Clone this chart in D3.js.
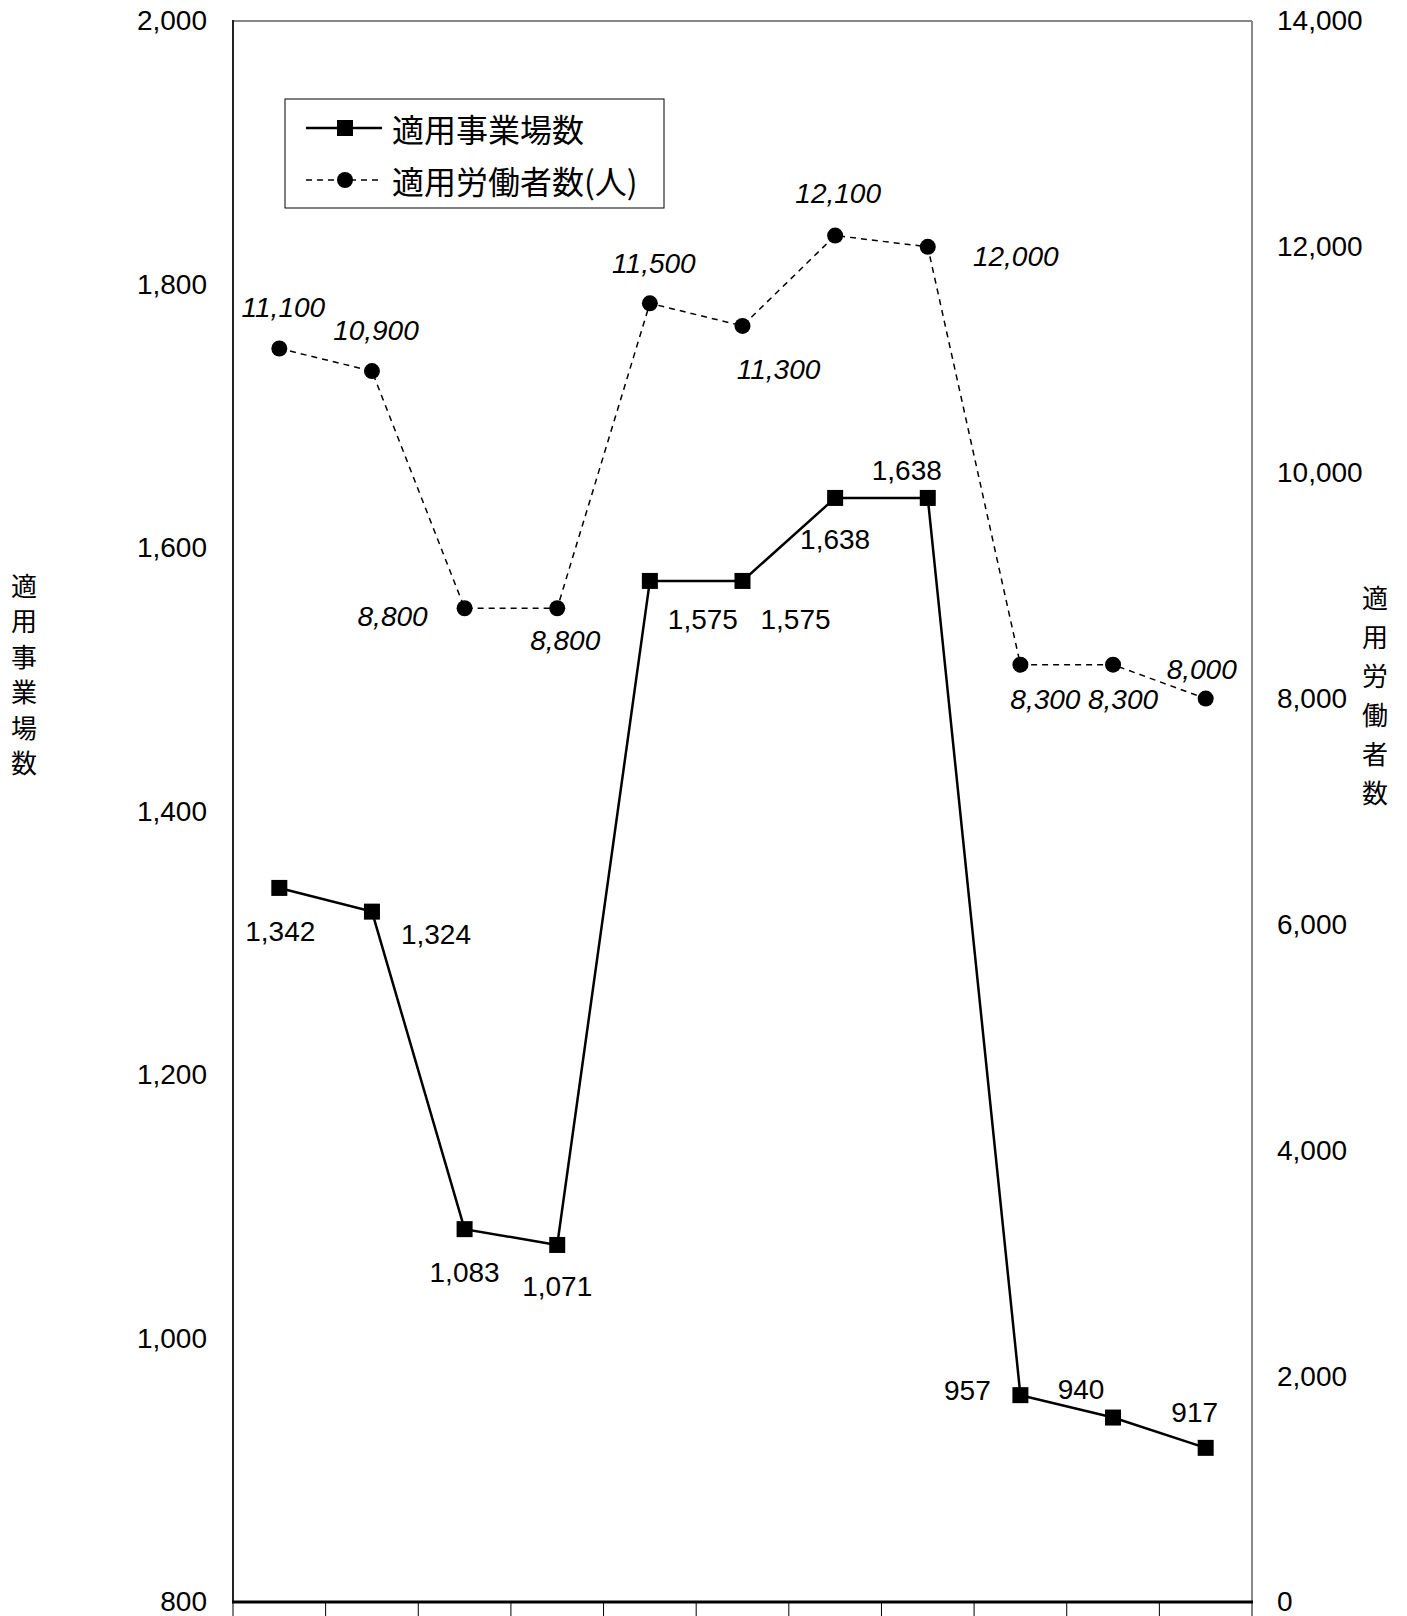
<!DOCTYPE html>
<html><head><meta charset="utf-8">
<script src="https://cdn.jsdelivr.net/npm/d3@7"></script>
<style>
html,body{margin:0;padding:0;background:#fff;}
svg{display:block;}
</style></head>
<body>
<svg id="chart" width="1407" height="1616"></svg>
<script>
// ---- data ----
const categories = ["H14/4","H15/4","H16/4","H17/4","H18/4","H19/4","H20/4","H21/4","H22/4","H23/4","H24/4"];
const establishments = [1342, 1324, 1083, 1071, 1575, 1575, 1638, 1638, 957, 940, 917];
const workers = [11100, 10900, 8800, 8800, 11500, 11300, 12100, 12000, 8300, 8300, 8000];
const leftTicks = [800, 1000, 1200, 1400, 1600, 1800, 2000];
const rightTicks = [0, 2000, 4000, 6000, 8000, 10000, 12000, 14000];
const seriesNames = ["適用事業場数", "適用労働者数(人)"];
const leftTitle = "適用事業場数";
const rightTitle = "適用労働者数";

// label placement offsets (px) relative to each point
const estLabelOffsets = [[1,44],[64,23],[0,43],[0,42],[53,39],[53,39],[0,42],[-21,-27],[-53,-5],[-32,-28],[-11,-35]];
const wrkLabelOffsets = [[4,-41],[4,-41],[-72,8],[8,32],[4,-40],[36,44],[3,-42],[88,10],[25,35],[10,35],[-4,-29]];

const L = 233, R = 1252, T = 21, B = 1602;
const svg = d3.select("#chart");
const numFont = "'Liberation Sans', Arial, sans-serif";
const jpFont = "'Noto Sans CJK JP', sans-serif";
const fmt = d3.format(",");

const x = d3.scaleBand().domain(categories).range([L, R]).padding(0);
const y1 = d3.scaleLinear().domain([800, 2000]).range([B, T]);
const y2 = d3.scaleLinear().domain([0, 14000]).range([B, T]);
const cx = d => x(d) + x.bandwidth() / 2;

// axes (labels only)
const gl = svg.append("g").attr("transform", `translate(${L},0)`)
  .call(d3.axisLeft(y1).tickValues(leftTicks).tickFormat(fmt).tickSize(0).tickPadding(26));
gl.select(".domain").remove();
gl.selectAll("text").attr("font-family", numFont).attr("font-size", 28).attr("fill", "#000");

const gr = svg.append("g").attr("transform", `translate(${R},0)`)
  .call(d3.axisRight(y2).tickValues(rightTicks).tickFormat(fmt).tickSize(0).tickPadding(25));
gr.select(".domain").remove();
gr.selectAll("text").attr("font-family", numFont).attr("font-size", 28).attr("fill", "#000");

// category axis (labels sit mostly below the visible area, as in the reference)
const gb = svg.append("g").attr("transform", `translate(0,${B})`)
  .call(d3.axisBottom(x).tickSize(0).tickPadding(17));
gb.select(".domain").remove();
gb.selectAll("text").attr("font-family", numFont).attr("font-size", 26).attr("fill", "#000")
  .attr("dy", "0.71em");
// category dividers
svg.append("g").selectAll("line").data(d3.range(categories.length + 1)).join("line")
  .attr("x1", i => L + i * x.bandwidth()).attr("x2", i => L + i * x.bandwidth())
  .attr("y1", B).attr("y2", 1616).attr("stroke", "#000").attr("stroke-width", 1);

// frame
svg.append("line").attr("x1", L).attr("x2", R).attr("y1", T).attr("y2", T).attr("stroke", "#888").attr("stroke-width", 2);
svg.append("line").attr("x1", R).attr("x2", R).attr("y1", T).attr("y2", B).attr("stroke", "#888").attr("stroke-width", 2);
svg.append("line").attr("x1", L).attr("x2", L).attr("y1", T - 1).attr("y2", B).attr("stroke", "#222").attr("stroke-width", 2);
svg.append("line").attr("x1", L - 1).attr("x2", R + 1).attr("y1", B).attr("y2", B).attr("stroke", "#000").attr("stroke-width", 3);

// axis titles (vertical stacked)
svg.append("g").selectAll("text").data(Array.from(leftTitle)).join("text")
  .attr("x", 24).attr("y", (d, i) => 584 + i * 35.5).attr("text-anchor", "middle")
  .attr("dominant-baseline", "central").attr("font-family", jpFont).attr("font-size", 26).text(d => d);
svg.append("g").selectAll("text").data(Array.from(rightTitle)).join("text")
  .attr("x", 1375).attr("y", (d, i) => 596 + i * 39).attr("text-anchor", "middle")
  .attr("dominant-baseline", "central").attr("font-family", jpFont).attr("font-size", 26).text(d => d);

// workers series (dashed, circles)
const line2 = d3.line().x((d, i) => cx(categories[i])).y(d => y2(d));
svg.append("path").datum(workers).attr("d", line2).attr("fill", "none")
  .attr("stroke", "#000").attr("stroke-width", 1.5).attr("stroke-dasharray", "6,5");
svg.append("g").selectAll("circle").data(workers).join("circle")
  .attr("cx", (d, i) => cx(categories[i])).attr("cy", d => y2(d)).attr("r", 8).attr("fill", "#000");

// establishments series (solid, squares)
const line1 = d3.line().x((d, i) => cx(categories[i])).y(d => y1(d));
svg.append("path").datum(establishments).attr("d", line1).attr("fill", "none")
  .attr("stroke", "#000").attr("stroke-width", 2.5);
svg.append("g").selectAll("rect").data(establishments).join("rect")
  .attr("x", (d, i) => cx(categories[i]) - 8).attr("y", d => y1(d) - 8)
  .attr("width", 16).attr("height", 16).attr("fill", "#000");

// labels
svg.append("g").selectAll("text").data(establishments).join("text")
  .attr("x", (d, i) => cx(categories[i]) + estLabelOffsets[i][0])
  .attr("y", (d, i) => y1(d) + estLabelOffsets[i][1])
  .attr("text-anchor", "middle").attr("dominant-baseline", "central")
  .attr("font-family", numFont).attr("font-size", 28).text(d => fmt(d));
svg.append("g").selectAll("text").data(workers).join("text")
  .attr("x", (d, i) => cx(categories[i]) + wrkLabelOffsets[i][0])
  .attr("y", (d, i) => y2(d) + wrkLabelOffsets[i][1])
  .attr("text-anchor", "middle").attr("dominant-baseline", "central")
  .attr("font-family", numFont).attr("font-style", "italic").attr("font-size", 28).text(d => fmt(d));

// legend
const lg = svg.append("g");
lg.append("rect").attr("x", 285).attr("y", 99).attr("width", 379).attr("height", 109)
  .attr("fill", "#fff").attr("stroke", "#000").attr("stroke-width", 1);
const rows = [128, 180];
lg.append("line").attr("x1", 306).attr("x2", 382).attr("y1", rows[0]).attr("y2", rows[0]).attr("stroke", "#000").attr("stroke-width", 2.5);
lg.append("rect").attr("x", 337).attr("y", rows[0] - 8).attr("width", 16).attr("height", 16).attr("fill", "#000");
lg.append("line").attr("x1", 306).attr("x2", 382).attr("y1", rows[1]).attr("y2", rows[1]).attr("stroke", "#000").attr("stroke-width", 1.5).attr("stroke-dasharray", "6,5");
lg.append("circle").attr("cx", 345).attr("cy", rows[1]).attr("r", 8).attr("fill", "#000");
lg.selectAll("text.lt").data(seriesNames).join("text").attr("class", "lt")
  .attr("x", 392).attr("y", (d, i) => rows[i]).attr("dominant-baseline", "central")
  .attr("font-family", jpFont).attr("font-size", 32).text(d => d);
</script>
</body></html>
